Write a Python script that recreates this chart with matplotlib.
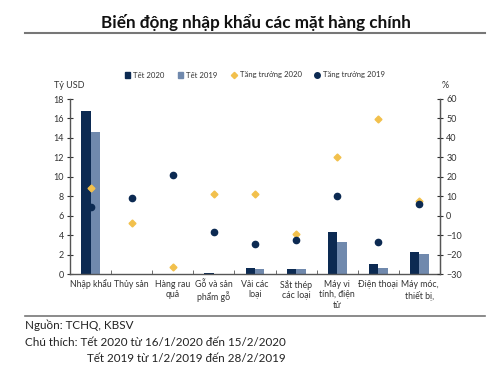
import matplotlib
matplotlib.use("Agg")
import matplotlib.pyplot as plt
import numpy as np
from matplotlib.lines import Line2D
from matplotlib.patches import Patch

plt.rcParams['font.family'] = ['Lato', 'DejaVu Sans']

categories = ["Nhập khẩu", "Thủy sản", "Hàng rau\nquả", "Gỗ và sản\nphẩm gỗ", "Vải các\nloại",
              "Sắt thép\ncác loại", "Máy vi\ntính, điện\ntử", "Điện thoại", "Máy móc,\nthiết bị,"]
tet2020 = [16.8, 0.05, 0.05, 0.1, 0.65, 0.48, 4.3, 1.0, 2.25]
tet2019 = [14.6, 0.05, 0.05, 0.05, 0.55, 0.48, 3.3, 0.65, 2.1]
growth2020 = [14.4, -3.9, -26.2, 11.3, 11.2, -9.4, 30.3, 49.9, 7.7]
growth2019 = [4.6, 8.9, 20.8, -8.6, -14.5, -12.5, 10.2, -13.4, 6.1]
left_ticks = [0, 2, 4, 6, 8, 10, 12, 14, 16, 18]
right_ticks = [-30, -20, -10, 0, 10, 20, 30, 40, 50, 60]

navy = "#0c2a52"
light = "#7089ad"
gold = "#f2c04c"
axcol = "#555555"

fig = plt.figure(figsize=(5, 3.75), dpi=100)
ax = fig.add_axes([0.14, 0.2693, 0.74, 0.4667])
x = np.arange(len(categories))
w = 0.23
ax.bar(x - w / 2, tet2020, width=w, color=navy, zorder=2)
ax.bar(x + w / 2, tet2019, width=w, color=light, zorder=2)
ax.set_xlim(-0.5, len(categories) - 0.5)
ax.set_ylim(0, 18)
ax.set_yticks(left_ticks)
ax.tick_params(axis='y', direction='inout', length=5, labelsize=6.5, colors='#333333', pad=2)
ax.set_xticks(x)
ax.set_xticklabels(categories, fontsize=6.3, color='#333333', linespacing=1.25)
ax.tick_params(axis='x', length=0, pad=4)
ax.set_xticks(np.arange(len(categories) + 1) - 0.5, minor=True)
ax.tick_params(axis='x', which='minor', direction='in', length=3, color=axcol)
ax.spines['top'].set_visible(False)
for s in ['left', 'bottom', 'right']:
    ax.spines[s].set_color(axcol)
    ax.spines[s].set_linewidth(1.0)

ax2 = ax.twinx()
ax2.set_ylim(-30, 60)
ax2.set_yticks(right_ticks)
ax2.tick_params(axis='y', direction='inout', length=5, labelsize=6.5, colors='#333333', pad=2)
ax2.spines['top'].set_visible(False)
ax2.spines['right'].set_color(axcol)
ax2.spines['left'].set_visible(False)
ax2.spines['bottom'].set_visible(False)
ax2.plot(x, growth2020, linestyle='none', marker='D', markersize=3.5, color=gold, zorder=3)
ax2.plot(x, growth2019, linestyle='none', marker='o', markersize=4.5, color=navy, zorder=3)

fig.text(0.108, 0.773, "Tỷ USD", fontsize=6.5, color='#333333', ha='left', va='center')
fig.text(0.884, 0.773, "%", fontsize=6.5, color='#333333', ha='left', va='center')

handles = [Patch(color=navy), Patch(color=light),
           Line2D([], [], linestyle='none', marker='D', markersize=3.2, color=gold),
           Line2D([], [], linestyle='none', marker='o', markersize=4.0, color=navy)]
labels = ["Tết 2020", "Tết 2019", "Tăng trưởng 2020", "Tăng trưởng 2019"]
fig.legend(handles, labels, loc='center', bbox_to_anchor=(0.51, 0.80), ncol=4, frameon=False,
           fontsize=5.6, handlelength=0.7, handleheight=0.7, handletextpad=0.4, columnspacing=1.7,
           labelcolor='#333333')

fig.text(0.512, 0.94, "Biến động nhập khẩu các mặt hàng chính", fontsize=12.3, fontweight='bold',
         ha='center', va='center', color='#111111')
fig.add_artist(Line2D([0.05, 0.97], [0.913, 0.913], color='#777777', linewidth=1.5))
fig.add_artist(Line2D([0.05, 0.97], [0.157, 0.157], color='#777777', linewidth=1.2))

fig.text(0.05, 0.133, "Nguồn: TCHQ, KBSV", fontsize=8.4, color='#222222', ha='left', va='center')
fig.text(0.05, 0.088, "Chú thích: Tết 2020 từ 16/1/2020 đến 15/2/2020", fontsize=8.4, color='#222222',
         ha='left', va='center')
fig.text(0.174, 0.043, "Tết 2019 từ 1/2/2019 đến 28/2/2019", fontsize=8.4, color='#222222',
         ha='left', va='center')

fig.savefig("out.png", dpi=100)
